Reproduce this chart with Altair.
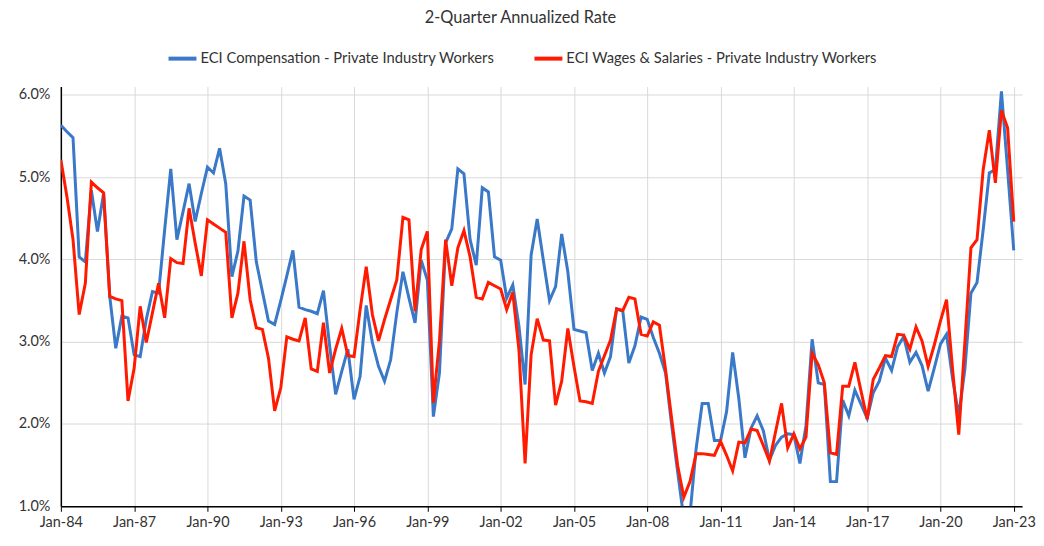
import altair as alt
import pandas as pd

SERIES = ["ECI Compensation - Private Industry Workers",
          "ECI Wages & Salaries - Private Industry Workers"]
COLORS = ["#3a78c8", "#ff1a00"]

dates = pd.date_range("1984-01-01", "2023-01-01", freq="QS").strftime("%Y-%m-%d").tolist()

comp = [
    5.63, 5.55, 5.48, 4.03, 3.97, 4.84, 4.34, 4.80, 3.55, 2.92,
    3.31, 3.29, 2.84, 2.82, 3.27, 3.61, 3.59, 4.36, 5.10, 4.24,
    4.58, 4.92, 4.46, 4.80, 5.12, 5.05, 5.35, 4.92, 3.79, 4.10,
    4.77, 4.72, 3.97, 3.61, 3.25, 3.21, 3.50, 3.80, 4.11, 3.42,
    3.39, 3.37, 3.34, 3.62, 2.95, 2.36, 2.64, 2.91, 2.30, 2.58,
    3.44, 2.99, 2.70, 2.52, 2.78, 3.35, 3.85, 3.53, 3.23, 3.99,
    3.75, 2.09, 2.62, 4.20, 4.37, 5.10, 5.04, 4.24, 3.93, 4.87,
    4.82, 4.03, 3.99, 3.53, 3.69, 3.19, 2.48, 4.05, 4.49, 3.99,
    3.50, 3.67, 4.31, 3.85, 3.15, 3.13, 3.11, 2.65, 2.86, 2.62,
    2.82, 3.40, 3.37, 2.74, 2.95, 3.30, 3.27, 3.05, 2.86, 2.62,
    1.98, 1.41, 0.85, 0.90, 1.70, 2.25, 2.25, 1.80, 1.80, 2.15,
    2.87, 2.31, 1.59, 1.95, 2.10, 1.92, 1.56, 1.74, 1.84, 1.88,
    1.87, 1.52, 1.98, 3.03, 2.50, 2.48, 1.30, 1.30, 2.29, 2.10,
    2.41, 2.24, 2.07, 2.38, 2.52, 2.80, 2.65, 2.94, 3.06, 2.75,
    2.87, 2.71, 2.40, 2.68, 2.97, 3.09, 2.55, 2.10, 2.67, 3.59,
    3.72, 4.36, 5.05, 5.09, 6.04, 5.09, 4.11,
]

wages = [
    5.21, 4.76, 4.24, 3.33, 3.71, 4.94, 4.87, 4.81, 3.55, 3.52,
    3.50, 2.28, 2.68, 3.43, 2.99, 3.35, 3.71, 3.29, 4.01, 3.96,
    3.95, 4.62, 4.20, 3.80, 4.48, 4.43, 4.38, 4.33, 3.29, 3.59,
    4.22, 3.51, 3.17, 3.15, 2.80, 2.16, 2.44, 3.06, 3.03, 3.01,
    3.29, 2.67, 2.64, 3.23, 2.62, 2.91, 3.16, 2.83, 2.82, 3.39,
    3.91, 3.33, 3.01, 3.27, 3.51, 3.75, 4.51, 4.48, 3.37, 4.12,
    4.34, 2.26, 3.01, 4.24, 3.68, 4.14, 4.35, 4.03, 3.54, 3.52,
    3.72, 3.68, 3.64, 3.39, 3.60, 2.90, 1.52, 2.84, 3.28, 3.02,
    3.01, 2.23, 2.52, 3.16, 2.70, 2.28, 2.27, 2.25, 2.64, 2.83,
    3.02, 3.40, 3.38, 3.54, 3.52, 3.09, 3.07, 3.24, 3.20, 2.66,
    2.06, 1.49, 1.11, 1.30, 1.64, 1.64, 1.63, 1.62, 1.79, 1.62,
    1.43, 1.78, 1.77, 1.94, 1.92, 1.74, 1.55, 1.90, 2.25, 1.71,
    1.88, 1.70, 1.84, 2.86, 2.72, 2.50, 1.65, 1.63, 2.46, 2.46,
    2.75, 2.40, 2.06, 2.54, 2.68, 2.83, 2.82, 3.09, 3.08, 2.91,
    3.18, 3.01, 2.70, 2.96, 3.25, 3.51, 2.66, 1.87, 3.00, 4.14,
    4.24, 5.09, 5.57, 4.93, 5.81, 5.60, 4.46,
]

Y_TICKS = [1, 2, 3, 4, 5, 6]
X_TICK_YEARS = list(range(1984, 2024, 3))

rows = []
for d, c, w in zip(dates, comp, wages):
    rows.append({"date": d, "series": SERIES[0], "value": c})
    rows.append({"date": d, "series": SERIES[1], "value": w})
df = pd.DataFrame(rows)

FONT = "Lato"
TXT = "#333333"

x_values = [alt.DateTime(year=y, month=1, date=1, utc=True) for y in X_TICK_YEARS]

chart = alt.Chart(df).mark_line(strokeWidth=3, clip=True).encode(
    x=alt.X("date:T",
            scale=alt.Scale(type="utc",
                            domain=[alt.DateTime(year=1984, month=1, date=1, utc=True),
                                    alt.DateTime(year=2023, month=5, date=5, utc=True)]),
            axis=alt.Axis(values=x_values,
                          labelExpr="utcFormat(datum.value, '%b-%y')",
                          grid=True, gridColor="#d9d9d9", gridWidth=1,
                          domainColor="#000000", domainWidth=1.5,
                          tickColor="#000000", tickSize=5, tickWidth=1,
                          labelFont=FONT, labelFontSize=14.5, labelColor=TXT,
                          labelPadding=4, labelFlush=False, labelOverlap=False,
                          labelBound=False),
            title=None),
    y=alt.Y("value:Q",
            scale=alt.Scale(domain=[1, 6.1], nice=False, zero=False),
            axis=alt.Axis(values=Y_TICKS,
                          labelExpr="format(datum.value, '.1f') + '%'",
                          grid=True, gridColor="#d9d9d9", gridWidth=1,
                          domainColor="#000000", domainWidth=1.5,
                          ticks=False, labelPadding=11,
                          labelFont=FONT, labelFontSize=14.5, labelColor=TXT),
            title=None),
    color=alt.Color("series:N",
                    scale=alt.Scale(domain=SERIES, range=COLORS),
                    legend=alt.Legend(orient="none", legendX=106, legendY=-44,
                                      direction="horizontal", title=None,
                                      symbolType="stroke", symbolSize=784,
                                      symbolStrokeWidth=4,
                                      labelFont=FONT, labelFontSize=14.8,
                                      labelColor=TXT, columnPadding=32,
                                      labelOffset=2, labelLimit=500)),
).properties(
    width=964,
    height=421,
    autosize=alt.AutoSizeParams(type="none"),
    padding={"left": 53, "top": 78, "right": 14, "bottom": 31},
    title=alt.TitleParams("2-Quarter Annualized Rate", font=FONT, fontSize=16.4,
                          fontWeight="normal", color=TXT, anchor="middle",
                          dx=-21, offset=16),
).configure_view(stroke=None)

chart.save("out.html", embed_options={"renderer": "svg", "actions": False})
